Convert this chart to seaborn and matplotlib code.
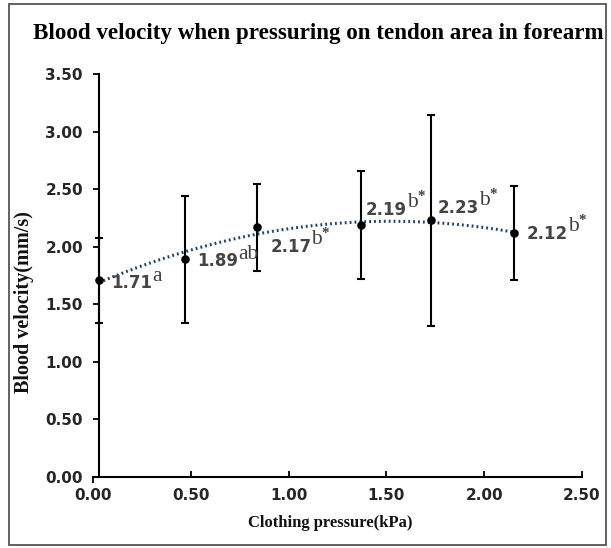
import matplotlib
matplotlib.use("Agg")
import matplotlib.pyplot as plt
import matplotlib.lines as mlines
from matplotlib.patches import Rectangle
from matplotlib.transforms import offset_copy
import seaborn as sns
import pandas as pd

# ---- data ----
pressure = [0.03, 0.47, 0.84, 1.37, 1.73, 2.15]
velocity = [1.71, 1.89, 2.17, 2.19, 2.23, 2.12]
sd = [0.37, 0.55, 0.38, 0.47, 0.92, 0.41]
value_labels = ["1.71", "1.89", "2.17", "2.19", "2.23", "2.12"]
group_letters = ["a", "ab", r"b$^{*}$", r"b$^{*}$", r"b$^{*}$", r"b$^{*}$"]
x_ticks = [0.0, 0.5, 1.0, 1.5, 2.0, 2.5]
y_ticks = [0.0, 0.5, 1.0, 1.5, 2.0, 2.5, 3.0, 3.5]

df = pd.DataFrame({"pressure": pressure, "velocity": velocity, "sd": sd})

sns.set_theme(style="white")
plt.rcParams["font.family"] = ["DejaVu Sans"]
plt.rcParams["font.weight"] = "bold"
plt.rcParams["xtick.labelsize"] = 11
plt.rcParams["ytick.labelsize"] = 11
plt.rcParams["mathtext.fontset"] = "custom"
plt.rcParams["mathtext.rm"] = "Liberation Serif"
plt.rcParams["mathtext.it"] = "Liberation Serif"

W, H = 611, 548
fig = plt.figure(figsize=(W / 100, H / 100), dpi=100)
ax = fig.add_axes([93 / W, 1 - 476.7 / H, (582 - 93) / W, (476.7 - 74.3) / H])

# trend line (2nd order polynomial)
sns.regplot(data=df, x="pressure", y="velocity", order=2, ci=None, scatter=False,
            truncate=True, ax=ax,
            line_kws=dict(color="#24406a", lw=2.2, linestyle=(0, (0.6, 1.0)),
                          dash_capstyle="butt"))

# error bars
ax.errorbar(df["pressure"], df["velocity"], yerr=df["sd"], fmt="none",
            ecolor="black", elinewidth=1.5, capsize=3, capthick=1.5, zorder=3)

# points
sns.scatterplot(data=df, x="pressure", y="velocity", color="black", s=38,
                edgecolor="black", linewidth=0, zorder=4, ax=ax, legend=False)

ax.set_xlim(0, 2.5)
ax.set_ylim(0, 3.5)
ax.set_xticks(x_ticks)
ax.set_yticks(y_ticks)
ax.set_xticklabels([f"{v:.2f}" for v in x_ticks], fontweight="bold",
                   color="#262626")
ax.set_yticklabels([f"{v:.2f}" for v in y_ticks], fontweight="bold",
                   color="#262626")

for s in ["top", "right"]:
    ax.spines[s].set_visible(False)
for s in ["left", "bottom"]:
    ax.spines[s].set_linewidth(1.5)
    ax.spines[s].set_color("black")
ax.spines["left"].set_position(("data", 0.03))

ax.tick_params(axis="y", direction="out", length=4.5, width=1.3, color="black",
               labelcolor="#262626", pad=7, left=True)
ax.tick_params(axis="x", direction="in", length=4.5, width=1.3, color="black",
               labelcolor="#262626", pad=8, bottom=True)
# first x tick points down as in the reference
fig.canvas.draw()
t0 = ax.xaxis.get_major_ticks()[0]
t0.tick1line.set_marker(mlines.TICKDOWN)

ax.set_xlabel("")
ax.set_ylabel("")

# data labels
offsets = [(12, -3), (12, -2), (13, -20), (5, 15), (6, 12), (13, -1)]
for xv, yv, txt, let, (dx, dy) in zip(pressure, velocity, value_labels,
                                      group_letters, offsets):
    tr = offset_copy(ax.transData, fig=fig, x=dx, y=dy, units="dots")
    t = ax.text(xv, yv, txt, transform=tr, ha="left", va="center",
                fontfamily="DejaVu Sans", fontweight="bold", fontsize=12,
                color="#454545", zorder=5)
    ax.annotate(let, xy=(1.0, 0.35), xycoords=t, ha="left", va="bottom",
                fontfamily="Liberation Serif", fontweight="normal", fontsize=15.5,
                color="#404040", zorder=5)

# axis titles and chart title
fig.text(318 / W, 1 - 33 / H, "Blood velocity when pressuring on tendon area in forearm",
         ha="center", va="center", fontfamily="Liberation Serif",
         fontweight="bold", fontsize=16.6, color="black")
fig.text(330 / W, 1 - 523 / H, "Clothing pressure(kPa)", ha="center", va="center",
         fontfamily="Liberation Serif", fontweight="bold", fontsize=12,
         color="#111111")
fig.text(24 / W, 1 - 302 / H, "Blood velocity(mm/s)", ha="center", va="center",
         rotation=90, fontfamily="Liberation Serif", fontweight="bold",
         fontsize=14.5, color="#111111")

# outer frame
fig.patches.append(Rectangle((9 / W, 1 - 545 / H), (606 - 9) / W, (545 - 4) / H,
                             transform=fig.transFigure, fill=False,
                             edgecolor="#555555", lw=1.3))

fig.savefig("out.png", dpi=100)
